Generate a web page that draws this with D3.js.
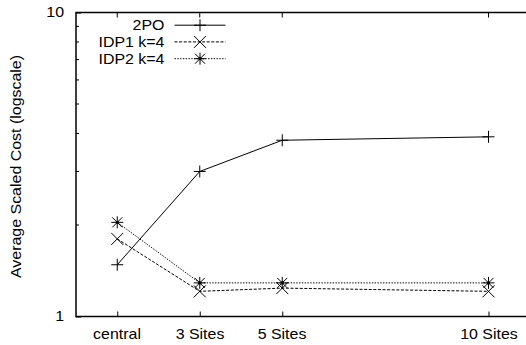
<!DOCTYPE html>
<html>
<head>
<meta charset="utf-8">
<script src="https://cdn.jsdelivr.net/npm/d3@7/dist/d3.min.js"></script>
<style>
  html, body { margin: 0; padding: 0; background: #fff; }
  svg { display: block; }
  text { font-family: "Liberation Sans", Arial, Helvetica, sans-serif; font-size: 14px; font-weight: normal; fill: #000; stroke: none; }
</style>
</head>
<body>
<svg id="chart" width="526" height="345"></svg>
<script>
// Site configurations along the x axis and their numeric positions
const categories = ["central", "3 Sites", "5 Sites", "10 Sites"];
const sitePositions = [1, 3, 5, 10];

// Average scaled cost per configuration
const series2PO = [1.48, 3.0, 3.8, 3.9];
const seriesIDP1 = [1.80, 1.21, 1.24, 1.21];
const seriesIDP2 = [2.04, 1.29, 1.29, 1.29];

const seriesNames = ["2PO", "IDP1 k=4", "IDP2 k=4"];
const yTickValues = [1, 10];
const yTickLabels = ["1", "10"];
const yMinorTicks = [2, 3, 4, 5, 6, 7, 8, 9];

(function () {
const svg = d3.select("#chart");
const stretch = 1.14;

const plotLeft = 76, plotTop = 12.5, plotBottom = 316.5;
const x = d3.scaleLinear().domain([0, 11]).range([plotLeft, plotLeft + 11 * 41.25]);
const y = d3.scaleLog().domain([1, 10]).range([plotBottom, plotTop]);
const plotRight = x(11);

// Frame
svg.append("rect")
  .attr("x", plotLeft).attr("y", plotTop)
  .attr("width", plotRight - plotLeft).attr("height", plotBottom - plotTop)
  .attr("fill", "none").attr("stroke", "#000").attr("stroke-width", 1.5);

// Bottom axis: inward ticks
const xAxis = d3.axisBottom(x)
  .tickValues(sitePositions)
  .tickFormat("")
  .tickSizeInner(-5).tickSizeOuter(0);
const gx = svg.append("g").attr("transform", `translate(0,${plotBottom})`).call(xAxis);
gx.select(".domain").remove();
gx.selectAll(".tick text").remove();
gx.selectAll(".tick line").attr("stroke", "#000");

// Category labels, slightly stretched horizontally
svg.append("g").selectAll("text").data(sitePositions).join("text")
  .attr("transform", d => `translate(${Math.round(x(d))},${plotBottom + 22.5}) scale(${stretch},1)`)
  .attr("text-anchor", "middle")
  .text((d, i) => categories[i]);

// Mirrored ticks along the top edge
svg.append("g").selectAll("line").data(sitePositions).join("line")
  .attr("x1", d => x(d)).attr("x2", d => x(d))
  .attr("y1", plotTop).attr("y2", plotTop + 5)
  .attr("stroke", "#000");

// Left axis: major ticks, minor ticks for 2..9
const yAxis = d3.axisLeft(y)
  .tickValues(yTickValues)
  .tickFormat("")
  .tickSizeInner(-5).tickSizeOuter(0);
const gy = svg.append("g").attr("transform", `translate(${plotLeft},0)`).call(yAxis);
gy.select(".domain").remove();
gy.selectAll(".tick text").remove();
gy.selectAll(".tick line").attr("stroke", "#000");

svg.append("g").selectAll("text").data(yTickValues).join("text")
  .attr("transform", d => `translate(${plotLeft - 12},${y(d)}) scale(${stretch},1)`)
  .attr("text-anchor", "end").attr("dy", "0.35em")
  .text((d, i) => yTickLabels[i]);

svg.append("g").selectAll("line").data(yMinorTicks).join("line")
  .attr("x1", plotLeft).attr("x2", plotLeft + 3)
  .attr("y1", d => y(d)).attr("y2", d => y(d))
  .attr("stroke", "#000");

// Y axis title
svg.append("text")
  .attr("transform", `translate(21,${(plotTop + plotBottom) / 2 + 2}) rotate(-90) scale(${stretch},1)`)
  .attr("text-anchor", "middle")
  .text("Average Scaled Cost (logscale)");

// Point markers
const markers = {
  plus: "M-6,0H6M0,-6V6",
  cross: "M-6,-6L6,6M-6,6L6,-6",
  star: "M-6,0H6M0,-6V6M-5,-5L5,5M-5,5L5,-5"
};

const allSeries = [
  { name: seriesNames[0], values: series2PO, dash: null, marker: "plus", dot: false },
  { name: seriesNames[1], values: seriesIDP1, dash: "3,1.6", marker: "cross", dot: false },
  { name: seriesNames[2], values: seriesIDP2, dash: "1.4,1.4", marker: "star", dot: true }
];

const line = d3.line()
  .x((d, i) => x(sitePositions[i]))
  .y(d => y(d));

function drawMarker(g, cx, cy, s) {
  g.append("path")
    .attr("d", markers[s.marker])
    .attr("transform", `translate(${cx},${cy})`)
    .attr("fill", "none").attr("stroke", "#000").attr("stroke-width", 1);
  if (s.dot) {
    g.append("circle").attr("cx", cx).attr("cy", cy).attr("r", 1.6).attr("fill", "#000");
  }
}

allSeries.forEach(s => {
  const g = svg.append("g");
  g.append("path")
    .datum(s.values)
    .attr("d", line)
    .attr("fill", "none").attr("stroke", "#000").attr("stroke-width", 1)
    .attr("stroke-dasharray", s.dash);
  s.values.forEach((v, i) => drawMarker(g, x(sitePositions[i]), y(v), s));
});

// Legend
const legendY = [25.2, 41.9, 58.7];
allSeries.forEach((s, i) => {
  const g = svg.append("g");
  const ly = legendY[i];
  g.append("text")
    .attr("transform", `translate(164.5,${ly}) scale(${stretch},1)`)
    .attr("text-anchor", "end").attr("dy", "0.35em")
    .text(s.name);
  g.append("line")
    .attr("x1", 174.5).attr("x2", 225.5).attr("y1", ly).attr("y2", ly)
    .attr("stroke", "#000").attr("stroke-width", 1)
    .attr("stroke-dasharray", s.dash);
  drawMarker(g, 200, ly, s);
});
})();
</script>
</body>
</html>
